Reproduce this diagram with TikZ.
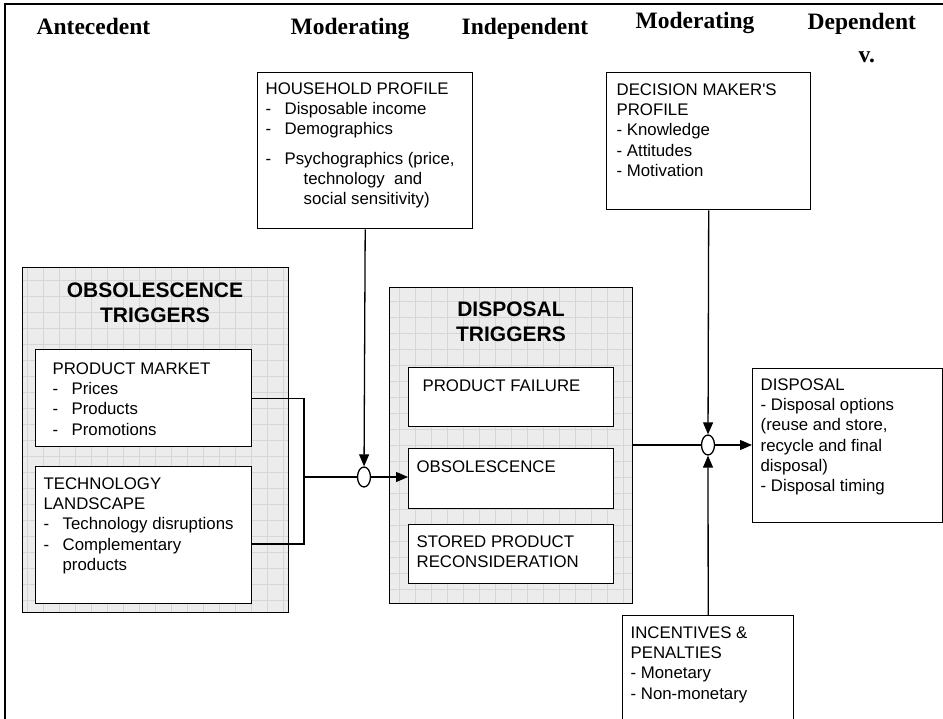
\documentclass[tikz,border=0pt]{standalone}
\usepackage{fontspec}
\setmainfont{Liberation Sans}
\newfontfamily\hdrfamily{Liberation Serif}
\usetikzlibrary{arrows.meta,shapes.geometric}

% dash item with hanging indent
\newcommand{\dl}[1]{\makebox[19pt][l]{-}#1}
% box at top-left corner (x,y), width, height
\newcommand{\bx}[6][box]{\node[#1, minimum width=#5pt, minimum height=#6pt] (#2) at (#3,#4) {};}

\begin{document}
\begin{tikzpicture}[x=1pt, y=-1pt, line width=1.3pt,
  hdr/.style={anchor=base west, inner sep=0, font=\hdrfamily\bfseries\fontsize{23.5}{25}\selectfont},
  txt/.style={anchor=north west, inner sep=0, align=left, font=\fontsize{16.8}{20.3}\selectfont},
  ttl/.style={anchor=north, inner sep=0, align=center, font=\bfseries\fontsize{21}{25}\selectfont},
  box/.style={draw, fill=white, anchor=north west, inner sep=0, line width=1.4pt},
  grp/.style={box, fill=gray!15, path picture={\draw[gray!32, line width=0.6pt, step=16pt]
      (path picture bounding box.south west) grid (path picture bounding box.north east);}},
  junc/.style={draw, ellipse, fill=white, inner sep=0, minimum width=13pt, minimum height=20pt},
  >={Triangle[length=12pt,width=10pt]}]
\clip (0,0) rectangle (943,719);
\fill[white] (0,0) rectangle (943,719);
\draw[line width=1.6pt] (943,4) -- (5,4) -- (5,719);

% column headings
\node[hdr] (hAnt) at (36,35) {Antecedent};
\node[hdr] (hMod1) at (290,35) {Moderating};
\node[hdr] (hInd) at (461,35) {Independent};
\node[hdr] (hMod2) at (635,29) {Moderating};
\node[hdr] (hDep) at (807,30) {Dependent};
\node[hdr] (hDepv) at (858,63) {v.};

% groups
\bx[grp]{ob}{22}{267}{266}{345}
\bx[grp]{dt}{389}{287}{243}{316}
\node[ttl] (obt) at (155,282) {OBSOLESCENCE\\TRIGGERS};
\node[ttl] (dtt) at (511,301) {DISPOSAL\\TRIGGERS};

% boxes
\bx{pm}{35}{349}{216}{97}
\bx{tl}{35}{466}{216}{137}
\bx{pf}{408}{367}{205}{59}
\bx{os}{408}{448}{205}{60}
\bx{sp}{408}{524}{205}{59}
\bx{hh}{257}{72}{215}{156}
\bx{dm}{606}{72}{204}{137}
\bx{dsp}{752}{368}{190}{154}
\bx{inc}{622}{615}{171}{120}

% texts
\node[txt] (hht) at (265,82) {HOUSEHOLD PROFILE\\
  \dl{Disposable income}\\
  \dl{Demographics}\\[9pt]
  \dl{Psychographics (price,}\\
  \hspace*{38pt}technology\ \ and\\
  \hspace*{38pt}social sensitivity)};
\node[txt] (pmt) at (52,362) {PRODUCT MARKET\\
  \dl{Prices}\\ \dl{Products}\\ \dl{Promotions}};
\node[txt] (tlt) at (43,477) {TECHNOLOGY\\LANDSCAPE\\
  \dl{Technology disruptions}\\ \dl{Complementary}\\ \hspace*{19pt}products};
\node[txt] (pft) at (422,379) {PRODUCT FAILURE};
\node[txt] (ost) at (416,460) {OBSOLESCENCE};
\node[txt] (spt) at (416,535) {STORED PRODUCT\\RECONSIDERATION};
\node[txt] (dmt) at (616,83) {DECISION MAKER\textquotesingle S\\PROFILE\\- Knowledge\\- Attitudes\\- Motivation};
\node[txt] (dspt) at (760,378) {DISPOSAL\\- Disposal options\\(reuse and store,\\recycle and final\\disposal)\\- Disposal timing};
\node[txt] (inct) at (630,626) {INCENTIVES \&\\PENALTIES\\- Monetary\\- Non-monetary};

% junctions
\node[junc] (j1) at (364,477) {};
\node[junc] (j2) at (708,445) {};
\coordinate (brk) at (304,477);
\coordinate (tlc) at (251,544);

% connectors
\draw (pm.east) -| (brk);
\draw (tlc) -| (brk);
\draw (brk) -- (j1);
\draw[->] (hh.south) -- (j1);
\draw[->] (j1) -- (j1 -| os.west);
\draw (dt.east |- j2) -- (j2);
\draw[->] (dm.south) -- (j2);
\draw[->] (inc.north) -- (j2);
\draw[->] (j2) -- (j2 -| dsp.west);
\end{tikzpicture}
\end{document}
